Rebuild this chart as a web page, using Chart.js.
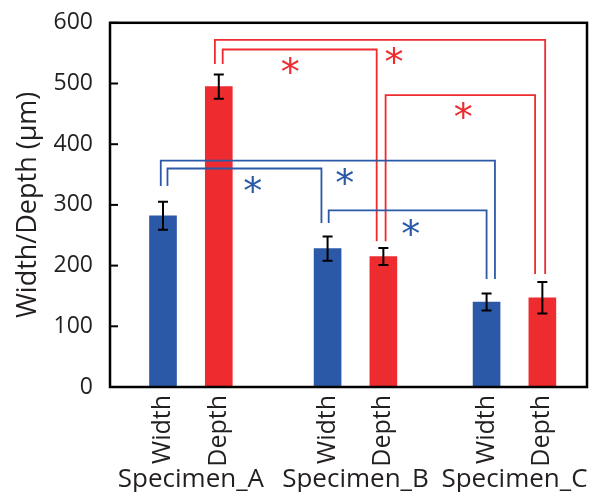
<!DOCTYPE html>
<html>
<head>
<meta charset="utf-8">
<script src="https://cdn.jsdelivr.net/npm/chart.js@4/dist/chart.umd.min.js"></script>
<style>
  html, body { margin: 0; padding: 0; background: #fff; }
</style>
</head>
<body>
<canvas id="chart" width="596" height="492"></canvas>
<script>
// Data
const groupLabels = ['Specimen_A', 'Specimen_B', 'Specimen_C'];
const groupCenters = [1.5, 4.45, 7.3];
const barLabels = ['Width', 'Depth', 'Width', 'Depth', 'Width', 'Depth'];
const barPositions = [1, 2, 3.95, 4.95, 6.8, 7.8];
const barValues = [282, 495, 228, 215, 140, 147];
const barErrors = [23, 20, 20, 14, 14, 26];
const yTicks = [0, 100, 200, 300, 400, 500, 600];

// significance brackets: [leftX, rightX, topY, leftEndY, rightEndY]
const redBrackets = [
    [1.93, 7.85, 572, 532, 186],
    [2.07, 4.83, 556, 532, 240],
    [4.99, 7.67, 481, 240, 186]
];
const blueBrackets = [
    [0.96, 6.95, 373, 331, 178],
    [1.08, 3.84, 360, 331, 270],
    [3.97, 6.80, 291, 270, 178]
];
// asterisk centers [x, y]
const redStars = [[3.28, 530], [5.14, 547], [6.38, 457]];
const blueStars = [[2.61, 334], [4.26, 347], [5.44, 264]];

const BLUE = '#2B59A7';
const RED = '#EE2B2E';
const TEXT = '#231F20';
const barColors = barLabels.map(l => l === 'Width' ? BLUE : RED);
const FONT = "'Open Sans', 'DejaVu Sans', sans-serif";

// Error bars, brackets, stars, frame and group labels
const overlayPlugin = {
    id: 'overlay',
    afterDatasetsDraw(chart) {
        const ctx = chart.ctx;
        const xs = chart.scales.x;
        const ys = chart.scales.y;
        const area = chart.chartArea;

        ctx.save();
        // error bars
        ctx.strokeStyle = '#000';
        ctx.lineWidth = 2;
        barPositions.forEach((p, i) => {
            const x = xs.getPixelForValue(p);
            const yTop = ys.getPixelForValue(barValues[i] + barErrors[i]);
            const yBot = ys.getPixelForValue(barValues[i] - barErrors[i]);
            ctx.beginPath();
            ctx.moveTo(x, yTop); ctx.lineTo(x, yBot);
            ctx.moveTo(x - 5, yTop); ctx.lineTo(x + 5, yTop);
            ctx.moveTo(x - 5, yBot); ctx.lineTo(x + 5, yBot);
            ctx.stroke();
        });

        // brackets
        const drawBrackets = (list, color) => {
            ctx.strokeStyle = color;
            ctx.lineWidth = 1.8;
            list.forEach(b => {
                const x1 = xs.getPixelForValue(b[0]);
                const x2 = xs.getPixelForValue(b[1]);
                ctx.beginPath();
                ctx.moveTo(x1, ys.getPixelForValue(b[3]));
                ctx.lineTo(x1, ys.getPixelForValue(b[2]));
                ctx.lineTo(x2, ys.getPixelForValue(b[2]));
                ctx.lineTo(x2, ys.getPixelForValue(b[4]));
                ctx.stroke();
            });
        };
        drawBrackets(redBrackets, RED);
        drawBrackets(blueBrackets, BLUE);

        // asterisks
        ctx.font = "38px 'DejaVu Sans', sans-serif";
        ctx.textAlign = 'center';
        ctx.textBaseline = 'alphabetic';
        const m = ctx.measureText('*');
        const shift = (m.actualBoundingBoxAscent - m.actualBoundingBoxDescent) / 2;
        const drawStars = (list, color) => {
            ctx.fillStyle = color;
            list.forEach(s => {
                ctx.fillText('*', xs.getPixelForValue(s[0]), ys.getPixelForValue(s[1]) + shift);
            });
        };
        drawStars(redStars, RED);
        drawStars(blueStars, BLUE);

        // inward y ticks
        ctx.strokeStyle = '#000';
        ctx.lineWidth = 2;
        yTicks.forEach(v => {
            const y = ys.getPixelForValue(v);
            ctx.beginPath();
            ctx.moveTo(area.left, y); ctx.lineTo(area.left + 8, y);
            ctx.stroke();
        });

        // frame
        ctx.lineWidth = 2.5;
        ctx.strokeRect(area.left, area.top, area.right - area.left, area.bottom - area.top);

        // group labels
        ctx.fillStyle = TEXT;
        ctx.font = '26px ' + FONT;
        ctx.textAlign = 'center';
        ctx.textBaseline = 'alphabetic';
        groupLabels.forEach((g, i) => {
            ctx.fillText(g, xs.getPixelForValue(groupCenters[i]), 487);
        });
        ctx.restore();
    }
};

const ctx = document.getElementById('chart').getContext('2d');
const chart = new Chart(ctx, {
    type: 'bar',
    data: {
        datasets: [{
            data: barPositions.map((p, i) => ({ x: p, y: barValues[i] })),
            backgroundColor: barColors,
            barThickness: 27
        }]
    },
    options: {
        responsive: false,
        animation: false,
        layout: { padding: { top: 21, right: 9, left: 0, bottom: 0 } },
        plugins: {
            legend: { display: false },
            tooltip: { enabled: false }
        },
        scales: {
            x: {
                type: 'linear',
                min: 0.05,
                max: 8.6,
                offset: false,
                grid: { display: false },
                border: { display: false },
                afterBuildTicks: scale => {
                    scale.ticks = barPositions.map(p => ({ value: p }));
                },
                afterFit: scale => { scale.height = 105; },
                ticks: {
                    autoSkip: false,
                    minRotation: 90,
                    maxRotation: 90,
                    padding: 0,
                    color: TEXT,
                    font: { family: FONT, size: 25 },
                    callback: (value, index) => barLabels[index]
                }
            },
            y: {
                min: 0,
                max: 600,
                grid: { display: false },
                border: { display: false },
                afterFit: scale => { scale.width = 110; },
                ticks: {
                    stepSize: 100,
                    padding: 9,
                    color: TEXT,
                    font: { family: FONT, size: 23 }
                },
                title: {
                    display: true,
                    text: 'Width/Depth (µm)',
                    color: TEXT,
                    font: { family: FONT, size: 27 },
                    padding: { top: 12, bottom: 0 }
                }
            }
        }
    },
    plugins: [overlayPlugin]
});
</script>
</body>
</html>
